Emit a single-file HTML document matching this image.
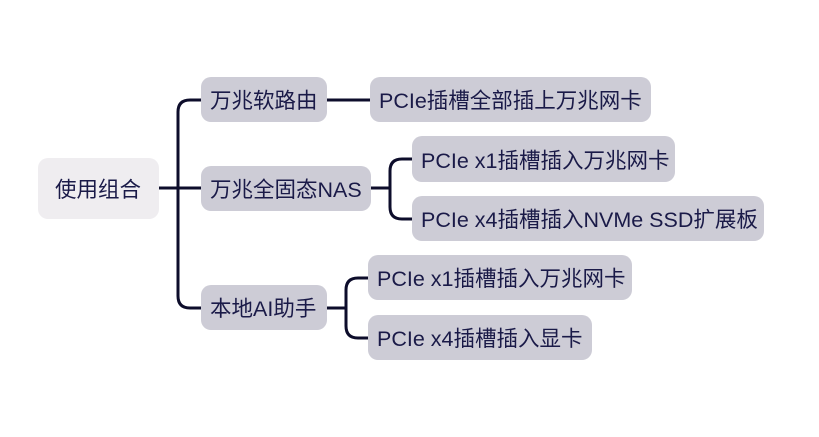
<!DOCTYPE html>
<html><head><meta charset="utf-8"><style>
body{margin:0;width:819px;height:437px;background:#fff;position:relative;overflow:hidden;font-family:"Liberation Sans","Noto Sans CJK SC",sans-serif;}
.b{position:absolute;background:#cdccd6;border-radius:10px;color:#1a1a48;font-size:21.5px;display:flex;align-items:center;padding-left:9px;box-sizing:border-box;white-space:nowrap;}
svg{position:absolute;left:0;top:0}
</style></head><body>
<svg width="819" height="437"><g fill="none" stroke="#0d0d2b" stroke-width="3" stroke-linecap="round">
<path d="M159 188 H178"/>
<path d="M201 100 H190 Q178 100 178 112 V296 Q178 308 190 308 H201"/>
<path d="M178 188 H201"/>
<path d="M327 100 H370"/>
<path d="M371 188 H390"/>
<path d="M412 159 H402 Q390 159 390 171 V207 Q390 219 402 219 H412"/>
<path d="M327 308 H346"/>
<path d="M368 278 H358 Q346 278 346 290 V326 Q346 338 358 338 H368"/>
</g></svg>
<div class="b" style="left:38px;top:158px;width:121px;height:61px;background:#efedf0;padding-left:17px">使用组合</div>
<div class="b" style="left:201px;top:77px;width:126px;height:45px">万兆软路由</div>
<div class="b" style="left:201px;top:166px;width:170px;height:45px">万兆全固态NAS</div>
<div class="b" style="left:201px;top:285px;width:126px;height:45px">本地AI助手</div>
<div class="b" style="left:370px;top:77px;width:281px;height:45px">PCIe插槽全部插上万兆网卡</div>
<div class="b" style="left:412px;top:136px;width:263px;height:46px">PCIe x1插槽插入万兆网卡</div>
<div class="b" style="left:412px;top:196px;width:352px;height:45px">PCIe x4插槽插入NVMe SSD扩展板</div>
<div class="b" style="left:368px;top:255px;width:264px;height:45px">PCIe x1插槽插入万兆网卡</div>
<div class="b" style="left:368px;top:315px;width:224px;height:45px">PCIe x4插槽插入显卡</div>
</body></html>
